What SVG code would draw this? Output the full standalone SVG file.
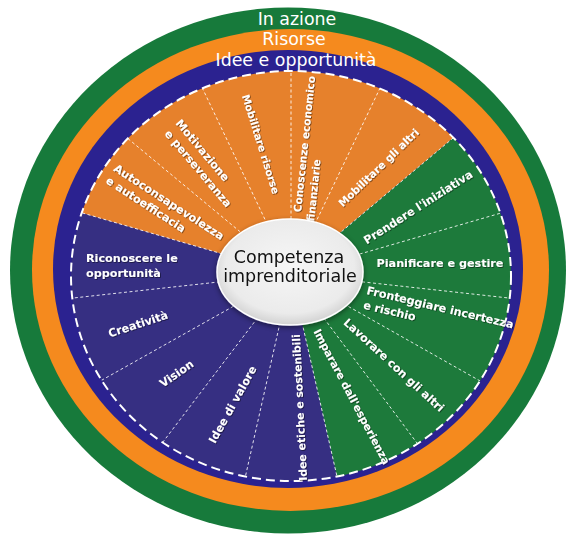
<svg xmlns="http://www.w3.org/2000/svg" width="569" height="538" viewBox="0 0 569 538">
  <defs>
    <style>
      .ring-label{font-family:"DejaVu Sans","Liberation Sans",sans-serif;font-size:17.4px;fill:#fff;text-anchor:middle}
      .seg{font-family:"DejaVu Sans","Liberation Sans",sans-serif;font-size:11.2px;font-weight:bold;fill:#fff}
      .mid{text-anchor:middle}
      .spoke{stroke:#fff;stroke-width:1;stroke-dasharray:3 2.5;stroke-opacity:.85;fill:none}
      .rim{fill:none;stroke:#fff;stroke-width:2;stroke-dasharray:9 5}
      .core{font-family:"DejaVu Sans","Liberation Sans",sans-serif;font-size:17.5px;fill:#111;text-anchor:middle}
    </style>
    <clipPath id="wheelClip">
      <ellipse cx="291" cy="276" rx="220" ry="205"/>
    </clipPath>
    <radialGradient id="coreFill" cx="50%" cy="45%" r="55%">
      <stop offset="0" stop-color="#f6f6f6"/>
      <stop offset="0.8" stop-color="#ebebeb"/>
      <stop offset="1" stop-color="#d2d2d2"/>
    </radialGradient>
    <filter id="txtShadow" x="-20%" y="-20%" width="140%" height="140%">
      <feDropShadow dx="0.8" dy="0.8" stdDeviation="0.7" flood-color="#000" flood-opacity="0.55"/>
    </filter>
    <filter id="coreShadow" x="-20%" y="-20%" width="140%" height="150%">
      <feDropShadow dx="0" dy="2" stdDeviation="2.5" flood-color="#000" flood-opacity="0.45"/>
    </filter>
  </defs>

  <!-- outer rings: In azione / Risorse / Idee e opportunità -->
  <g id="rings">
    <ellipse cx="288" cy="270.5" rx="278" ry="263" fill="#177a3b"/>
    <ellipse cx="290.5" cy="270" rx="258.5" ry="241" fill="#f58a1e"/>
    <ellipse cx="288" cy="269" rx="235" ry="219" fill="#2b2290"/>
    <text class="ring-label" x="297" y="25">In azione</text>
    <text class="ring-label" x="294" y="45">Risorse</text>
    <text class="ring-label" x="296" y="66">Idee e opportunità</text>
  </g>

  <!-- inner wheel with the three areas -->
  <g id="wheel">
    <ellipse id="area-idee" cx="291" cy="276" rx="220" ry="205" fill="#362f82"/>
    <g clip-path="url(#wheelClip)">
      <polygon id="area-risorse" points="291,274 -92.9,161.7 154.2,-101.9 427.8,-101.9 597.4,16.9" fill="#e6812c"/>
      <polygon id="area-azione" points="291,274 597.4,16.9 691,274 597.4,531.1 379.6,664" fill="#1d7a3b"/>
    </g>
  </g>

  <!-- dashed dividers between the fifteen competences -->
  <g id="connectors" clip-path="url(#wheelClip)">
    <line class="spoke" x1="291" y1="274" x2="41.5" y2="201"/>
    <line class="spoke" x1="291" y1="274" x2="91" y2="107.9"/>
    <line class="spoke" x1="291" y1="274" x2="179.1" y2="39.3"/>
    <line class="spoke" x1="291" y1="274" x2="291" y2="14"/>
    <line class="spoke" x1="291" y1="274" x2="403.3" y2="39.5"/>
    <line class="spoke" x1="291" y1="274" x2="490.2" y2="106.9"/>
    <line class="spoke" x1="291" y1="274" x2="540.7" y2="201.5"/>
    <line class="spoke" x1="291" y1="274" x2="549.4" y2="302.5"/>
    <line class="spoke" x1="291" y1="274" x2="517.3" y2="402"/>
    <line class="spoke" x1="291" y1="274" x2="446.4" y2="482.5"/>
    <line class="spoke" x1="291" y1="274" x2="348.6" y2="527.5"/>
    <line class="spoke" x1="291" y1="274" x2="233.9" y2="527.6"/>
    <line class="spoke" x1="291" y1="274" x2="133.4" y2="480.8"/>
    <line class="spoke" x1="291" y1="274" x2="64.3" y2="401.2"/>
    <line class="spoke" x1="291" y1="274" x2="32.6" y2="302.5"/>
  </g>
  <ellipse class="rim" cx="291" cy="276" rx="220" ry="205"/>

  <!-- competence labels -->
  <g id="labels" filter="url(#txtShadow)">
    <g id="seg-autoconsapevolezza">
      <text class="seg" transform="translate(115,167) rotate(33)"><tspan x="0" y="4">Autoconsapevolezza</tspan><tspan x="0" y="18.5">e autoefficacia</tspan></text>
    </g>
    <g id="seg-motivazione">
      <text class="seg" transform="translate(178,121) rotate(50)"><tspan x="0" y="4">Motivazione</tspan><tspan x="1" y="19">e perseveranza</tspan></text>
    </g>
    <g id="seg-mobilitare-risorse">
      <text class="seg mid" style="font-size:10.4px" transform="translate(261,144) rotate(72.7)" y="4">Mobilitare risorse</text>
    </g>
    <g id="seg-conoscenze">
      <text class="seg" style="font-size:10.5px" transform="translate(297,212) rotate(-84)"><tspan x="0" y="4">Conoscenze economico</tspan><tspan x="-8" y="18">finanziarie</tspan></text>
    </g>
    <g id="seg-mobilitare-altri">
      <text class="seg mid" style="font-size:10.5px" transform="translate(378.5,167.5) rotate(-44)" y="4">Mobilitare gli altri</text>
    </g>
    <g id="seg-iniziativa">
      <text class="seg mid" transform="translate(418,207) rotate(-32.5)" y="4">Prendere l'iniziativa</text>
    </g>
    <g id="seg-pianificare">
      <text class="seg mid" transform="translate(440,263)" y="4">Pianificare e gestire</text>
    </g>
    <g id="seg-fronteggiare">
      <text class="seg" transform="translate(367,290) rotate(13.3)"><tspan x="0" y="4">Fronteggiare incertezza</tspan><tspan x="0" y="19">e rischio</tspan></text>
    </g>
    <g id="seg-lavorare">
      <text class="seg mid" transform="translate(394,365) rotate(42.6)" y="4">Lavorare con gli altri</text>
    </g>
    <g id="seg-imparare">
      <text class="seg mid" style="font-size:10.8px" transform="translate(352,396.5) rotate(62.2)" y="4">Imparare dall'esperienza</text>
    </g>
    <g id="seg-etiche">
      <text class="seg mid" style="font-size:10.9px" transform="translate(299.5,407.5) rotate(-92.8)" y="4">Idee etiche e sostenibili</text>
    </g>
    <g id="seg-valore">
      <text class="seg mid" transform="translate(232.5,404.5) rotate(-61)" y="4">Idee di valore</text>
    </g>
    <g id="seg-vision">
      <text class="seg mid" transform="translate(176.5,373.5) rotate(-35)" y="4">Vision</text>
    </g>
    <g id="seg-creativita">
      <text class="seg mid" transform="translate(138,324) rotate(-18)" y="4">Creatività</text>
    </g>
    <g id="seg-riconoscere">
      <text class="seg"><tspan x="86" y="262">Riconoscere le</tspan><tspan x="86" y="277">opportunità</tspan></text>
    </g>
  </g>

  <!-- central hub -->
  <g id="core">
    <ellipse cx="290" cy="272" rx="73" ry="53" fill="url(#coreFill)" stroke="#fff" stroke-width="1.5" filter="url(#coreShadow)"/>
    <text class="core" x="289" y="263">Competenza</text>
    <text class="core" x="290" y="282">imprenditoriale</text>
  </g>
</svg>
